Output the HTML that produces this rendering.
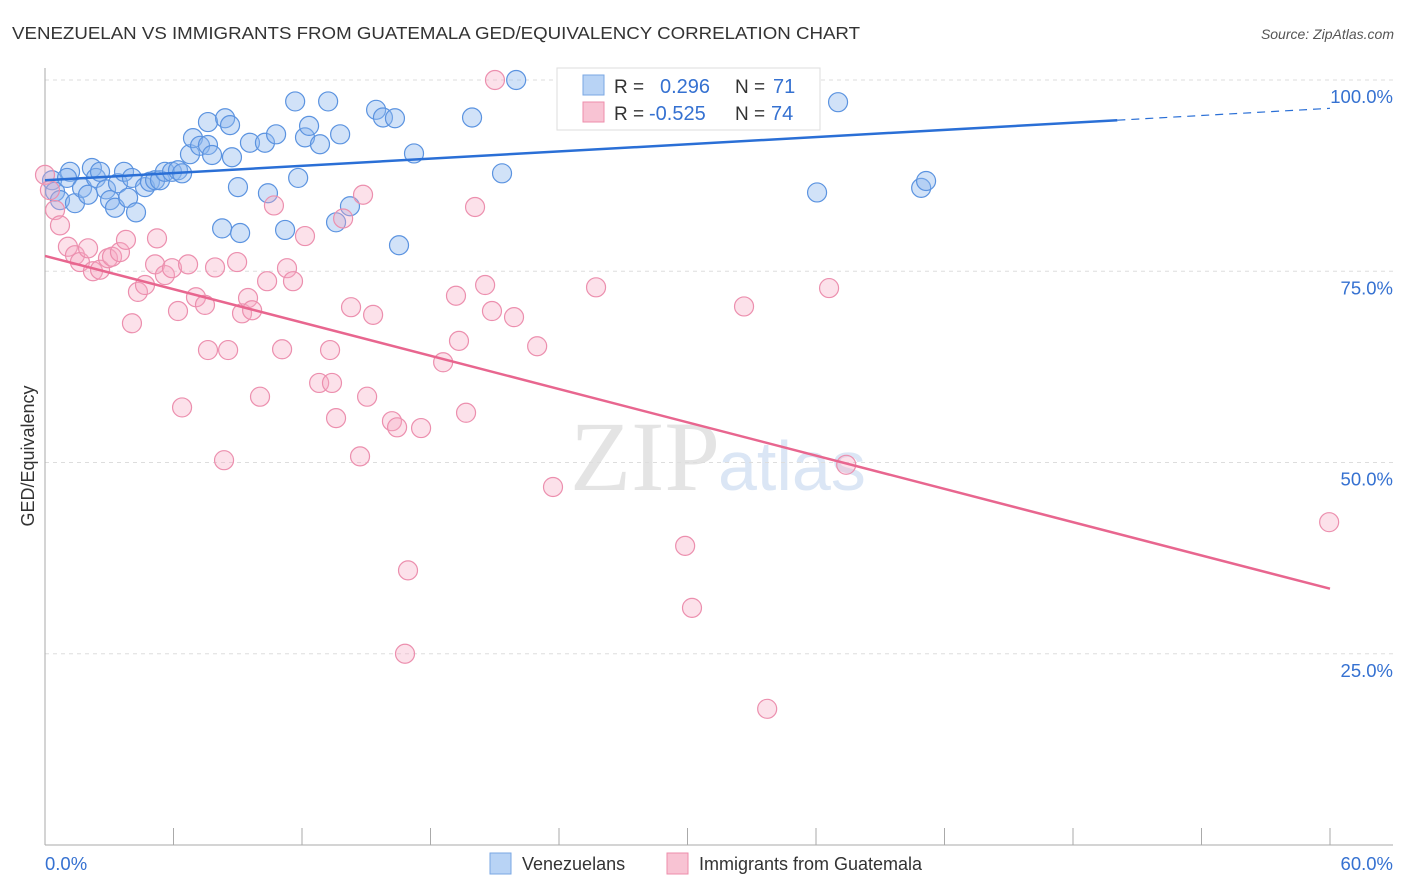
<!DOCTYPE html>
<html><head><meta charset="utf-8">
<style>
body{margin:0;background:#fff;font-family:"Liberation Sans",sans-serif;}
svg{display:block}
</style></head>
<body>
<svg id="chart" width="1406" height="892">
<text x="12" y="39" font-size="17.5" fill="#333" textLength="848" lengthAdjust="spacingAndGlyphs">VENEZUELAN VS IMMIGRANTS FROM GUATEMALA GED/EQUIVALENCY CORRELATION CHART</text>
<text x="1394" y="39" font-size="14" fill="#555" font-style="italic" text-anchor="end">Source: ZipAtlas.com</text>
<text x="34" y="456" font-size="18" fill="#333" text-anchor="middle" transform="rotate(-90 34 456)">GED/Equivalency</text>
<text x="720" y="490" font-size="100" fill="#e4e4e4" text-anchor="end" font-family="Liberation Serif,serif">ZIP</text>
<text x="718" y="490" font-size="70" fill="#dbe6f5">atlas</text>
<g id="grid"></g><g id="axes"></g><g id="pts"></g><g id="lines"></g>
<g>
<rect x="557" y="68" width="263" height="62" fill="#fff" stroke="#ddd"/>
<rect x="583" y="75" width="21" height="20" fill="#b8d3f5" stroke="#7aa7e3"/>
<rect x="583" y="102" width="21" height="20" fill="#f8c3d3" stroke="#ee8eab"/>
<text x="614" y="93" font-size="19" fill="#333">R =</text><text x="660" y="93" font-size="20" fill="#3571d1">0.296</text>
<text x="735" y="93" font-size="19" fill="#333">N =</text><text x="773" y="93" font-size="20" fill="#3571d1">71</text>
<text x="614" y="120" font-size="19" fill="#333">R =</text><text x="649" y="120" font-size="20" fill="#3571d1">-0.525</text>
<text x="735" y="120" font-size="19" fill="#333">N =</text><text x="771" y="120" font-size="20" fill="#3571d1">74</text>
</g>
<g>
<rect x="490" y="853" width="21" height="21" fill="#b8d3f5" stroke="#7aa7e3"/>
<text x="522" y="870" font-size="18" fill="#333">Venezuelans</text>
<rect x="667" y="853" width="21" height="21" fill="#f8c3d3" stroke="#ee8eab"/>
<text x="699" y="870" font-size="18" fill="#333">Immigrants from Guatemala</text>
</g>
</svg>
<script>
const xTicks=[0,10,20,30,40,50,60];
const yTicks=[25,50,75,100];
const yTickLabels=["25.0%","50.0%","75.0%","100.0%"];
const blueX=[0.33,0.47,0.70,1.17,1.03,1.40,1.73,2.01,2.19,2.38,2.57,2.85,3.04,3.27,3.41,3.69,3.88,4.06,4.25,4.67,4.90,5.14,5.37,5.60,5.93,6.21,6.40,6.77,6.91,7.24,7.61,7.80,7.61,8.41,8.64,8.73,9.01,8.27,9.11,9.57,10.27,10.41,10.79,11.21,11.68,11.82,12.14,12.33,12.84,13.22,13.78,13.59,14.24,15.46,15.78,16.34,17.23,16.53,19.94,21.34,22.00,37.03,36.05,40.91,41.14,25.22];
const blueY=[86.9,85.4,84.3,88.0,87.2,83.9,85.9,85.0,88.5,87.2,88.0,85.7,84.3,83.3,86.5,88.0,84.6,87.2,82.7,86.0,86.7,86.9,86.9,88.0,88.0,88.2,87.8,90.3,92.4,91.4,91.5,90.2,94.5,95.0,94.1,89.9,86.0,80.6,80.0,91.8,91.8,85.2,92.9,80.4,97.2,87.2,92.5,94.0,91.6,97.2,92.9,81.4,83.5,96.1,95.1,95.0,90.4,78.4,95.1,87.8,100.0,97.1,85.3,85.9,86.8,95.8];
const pinkX=[0,0.23,0.47,0.70,1.07,1.40,1.63,2.01,2.24,2.57,2.94,3.13,3.50,3.78,4.06,4.34,4.67,5.14,5.23,5.60,5.93,6.21,6.40,6.68,7.05,7.47,7.61,7.94,8.36,8.55,8.97,9.20,9.48,9.67,10.04,10.37,10.69,11.07,11.30,11.58,12.14,12.80,13.31,13.40,13.59,13.92,14.29,14.71,14.85,15.04,15.32,16.20,16.44,16.81,16.95,17.56,18.59,19.19,19.33,19.66,20.08,20.55,20.87,21.01,21.90,22.98,23.72,25.73,29.89,30.21,32.64,33.72,36.61,37.41,59.96];
const pinkY=[87.6,85.6,83.0,81.0,78.2,77.1,76.2,78.0,75.0,75.2,76.7,76.9,77.5,79.1,68.2,72.3,73.2,75.9,79.3,74.5,75.4,69.8,57.2,75.9,71.6,70.6,64.7,75.5,50.3,64.7,76.2,69.5,71.5,69.9,58.6,73.7,83.6,64.8,75.4,73.7,79.6,60.4,64.7,60.4,55.8,81.9,70.3,50.8,85.0,58.6,69.3,55.4,54.6,25.0,35.9,54.5,63.1,71.8,65.9,56.5,83.4,73.2,69.8,100.0,69.0,65.2,46.8,72.9,39.1,31.0,70.4,17.8,72.8,49.7,42.2];
const blueTrend=[86.9,96.3];
const pinkTrend=[77.0,33.5];
const NS="http://www.w3.org/2000/svg";
const X=v=>45+v/60*1285, Y=v=>845-v*7.65;
function mk(t,a,p){const e=document.createElementNS(NS,t);for(const k in a)e.setAttribute(k,a[k]);p.appendChild(e);return e;}
const grid=document.getElementById('grid'),axes=document.getElementById('axes'),pts=document.getElementById('pts'),lines=document.getElementById('lines');
yTicks.forEach((t,i)=>{
 const g=mk('line',{x1:45,x2:1393,y1:Y(t),y2:Y(t),stroke:'#ddd','stroke-dasharray':'4,4'},grid);
 
 
 const l=mk('text',{x:1393,y:Y(t)+23,'font-size':18.5,fill:'#3571d1','text-anchor':'end'},axes);
 l.textContent=yTickLabels[i];
 
 
});
const ax=mk('line',{x1:45,x2:45,y1:68,y2:845,stroke:'#aaa'},axes);


const bx=mk('line',{x1:45,x2:1393,y1:845,y2:845,stroke:'#aaa'},axes);


for(let v=0;v<=60;v+=6){
 const tk=mk('line',{x1:X(v),x2:X(v),y1:828,y2:845,stroke:'#aaa'},axes);
 
 
}
[[0,'0.0%','start',45],[60,'60.0%','end',1393]].forEach(d=>{
 const l=mk('text',{x:d[3],y:870,'font-size':18.5,fill:'#3571d1','text-anchor':d[2]},axes);
 l.textContent=d[1];
 
 
});
blueX.forEach((x,i)=>{
 const c=mk('circle',{cx:X(x),cy:Y(blueY[i]),r:9.5,fill:'rgba(140,182,238,0.4)',stroke:'#5b93e0','stroke-width':1.2},pts);
 
 
});
pinkX.forEach((x,i)=>{
 const c=mk('circle',{cx:X(x),cy:Y(pinkY[i]),r:9.5,fill:'rgba(246,170,195,0.35)',stroke:'#ec8fae','stroke-width':1.2},pts);
 
 
});
const bxe=50.07, bye=blueTrend[0]+(blueTrend[1]-blueTrend[0])*bxe/60;
const bl=mk('line',{x1:X(0),y1:Y(blueTrend[0]),x2:X(bxe),y2:Y(bye),stroke:'#2a6fd6','stroke-width':2.5},lines);


const bd=mk('line',{x1:X(bxe),y1:Y(bye),x2:X(60),y2:Y(blueTrend[1]),stroke:'#2a6fd6','stroke-width':1.2,'stroke-dasharray':'8,6'},lines);


const pl=mk('line',{x1:X(0),y1:Y(pinkTrend[0]),x2:X(60),y2:Y(pinkTrend[1]),stroke:'#e8668f','stroke-width':2.5},lines);


</script>
</body></html>
